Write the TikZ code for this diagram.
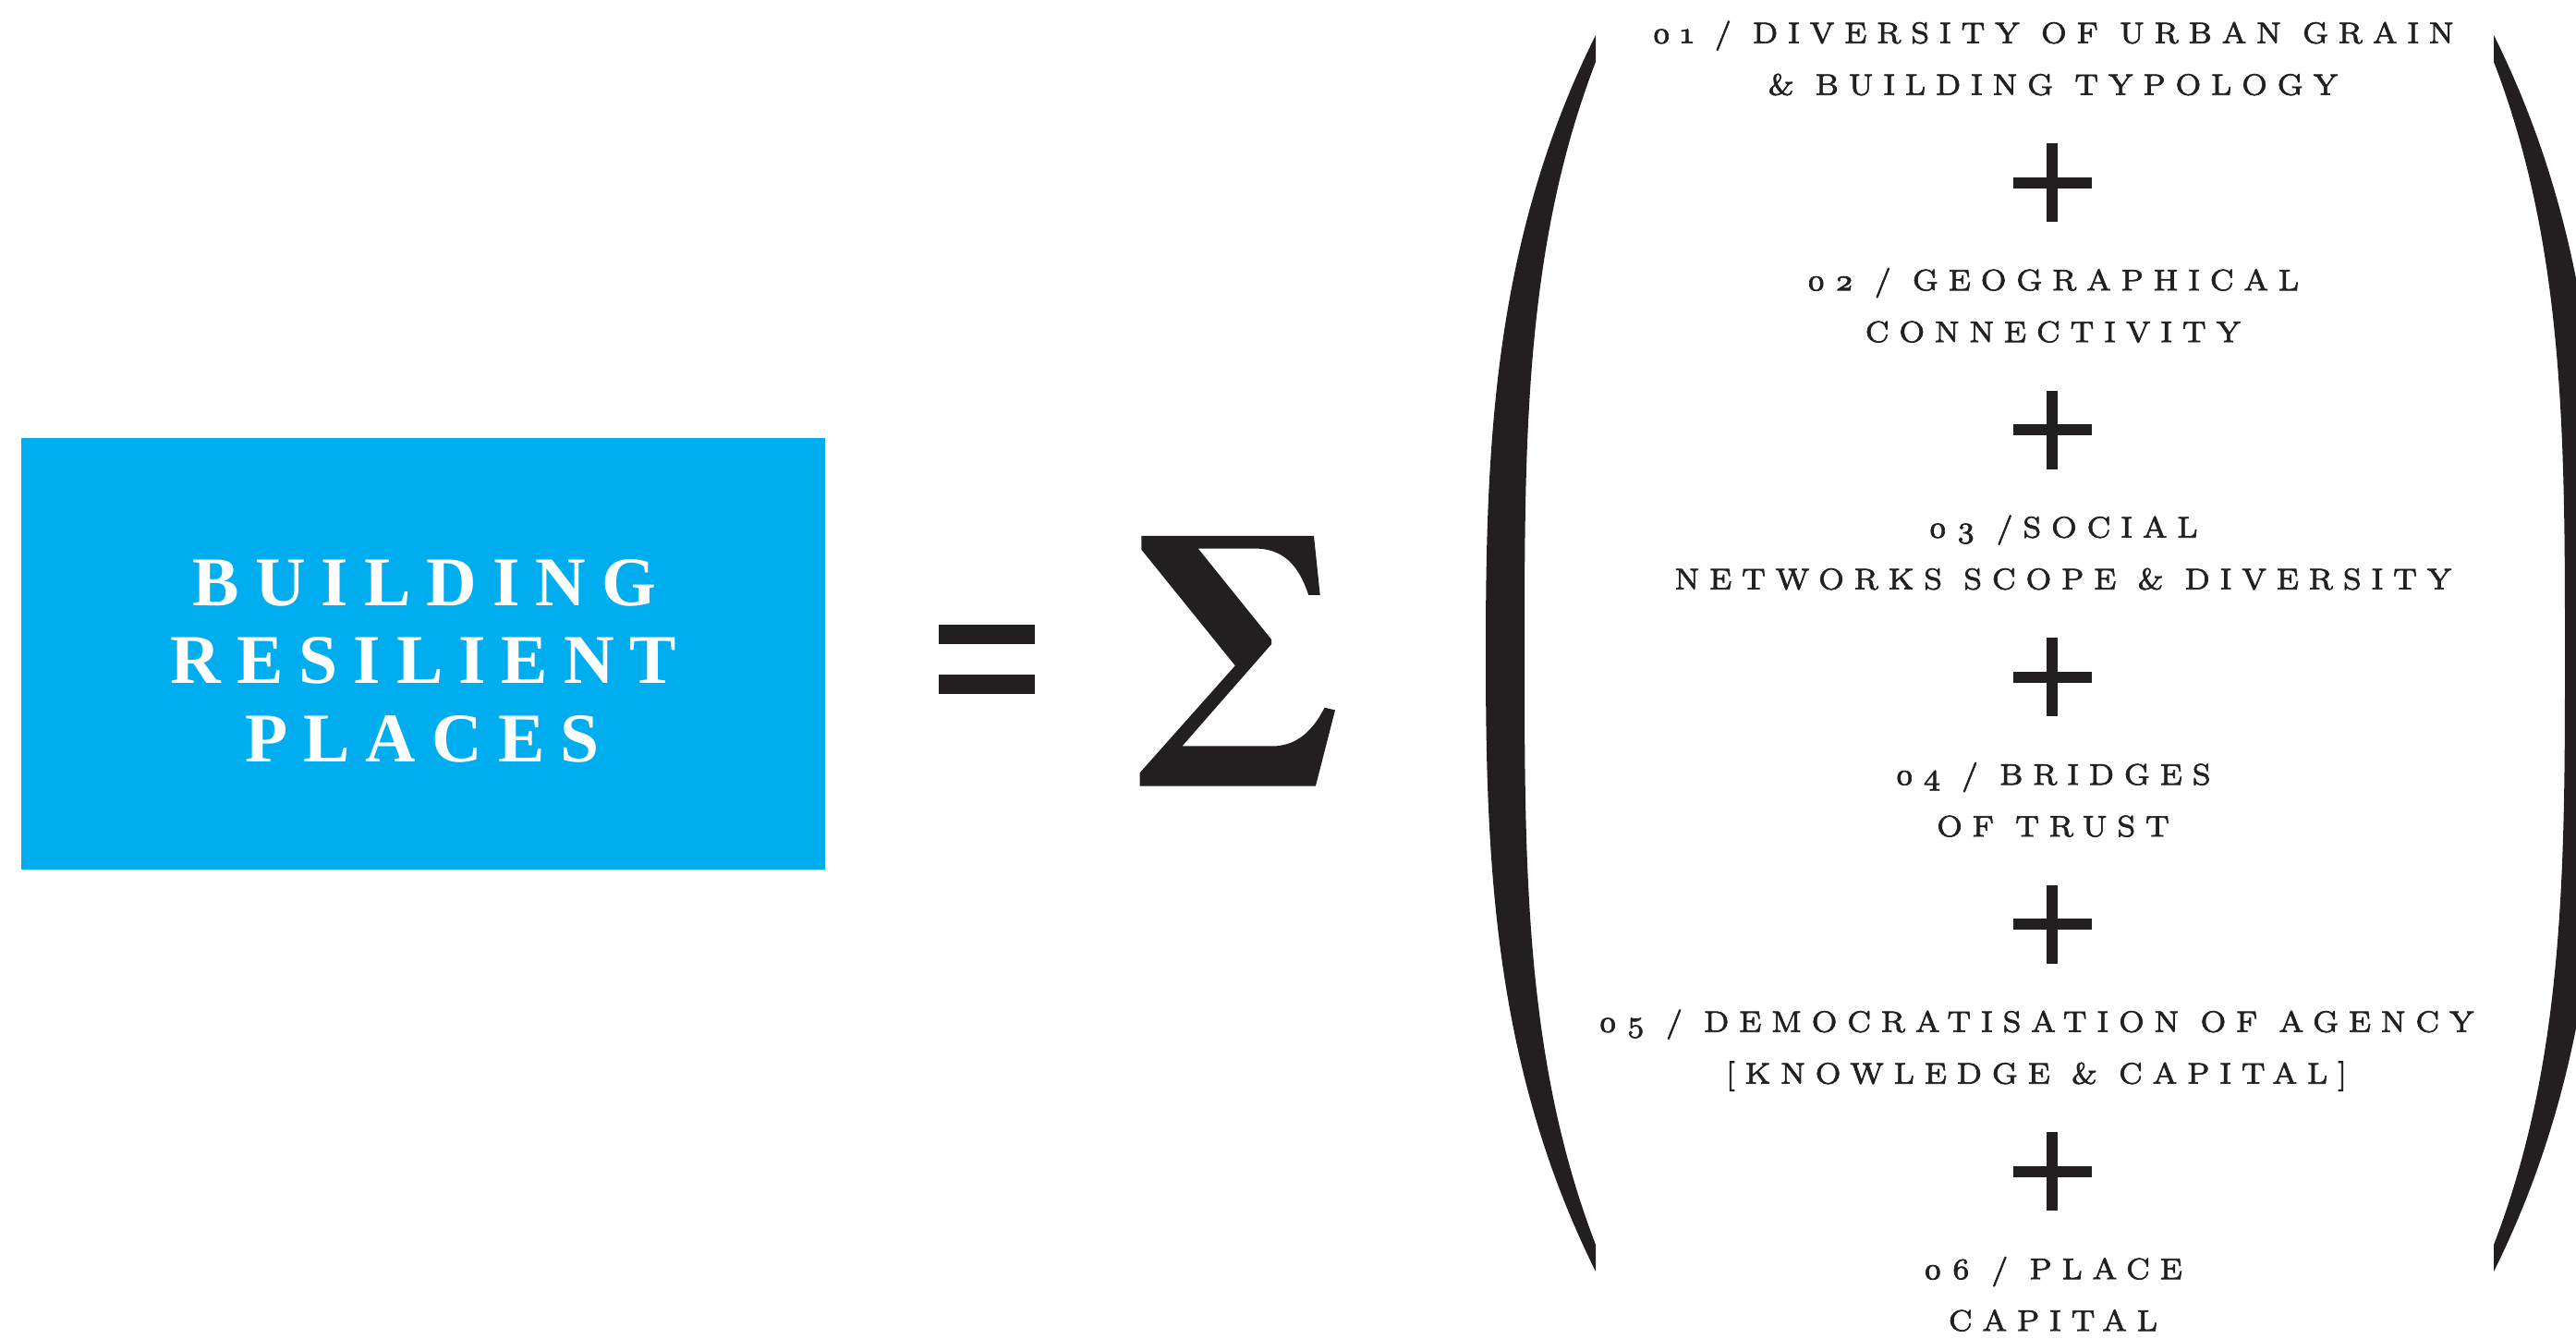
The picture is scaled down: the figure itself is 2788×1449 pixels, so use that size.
\documentclass[tikz,border=0pt]{standalone}
\usepackage{fontspec}
\setmainfont{Latin Modern Roman}
\newfontfamily\itemfont{lmroman7-regular.otf}[Numbers=OldStyle,LetterSpace=32,FakeBold=2]
\newfontfamily\boxfont{Liberation Serif}[LetterSpace=22.5]
\definecolor{ink}{HTML}{231F20}
\definecolor{cyanbox}{HTML}{00AEEF}
\tikzset{
  itemline/.style={anchor=base, inner sep=0pt, text=ink, font=\itemfont\fontsize{9.17pt}{11pt}\selectfont},
  boxline/.style={anchor=base, inner sep=0pt, text=white, font=\boxfont\bfseries\fontsize{21.5pt}{24pt}\selectfont},
  boxstyle/.style={fill=cyanbox, draw=none, inner sep=0pt, minimum width=87mm, minimum height=46.7mm},
}
\begin{document}
\begin{tikzpicture}[x=0.1mm,y=-0.1mm]
\useasboundingbox (0,0) rectangle (2788,1449);
% parentheses
\begin{scope}
\clip (0,0) rectangle (2788,1449);
\fill[ink] plot[domain=-669:669, samples=121, variable=\t]
  ({1608+119*(0.2*(\t/669)^2+0.8*(abs(\t)/669)^3)}, {707+\t})
  -- plot[domain=640:-640, samples=121, variable=\t]
  ({1650+77*(0.8*(abs(\t)/640)^3+0.2*(\t/640)^4)}, {707+\t}) -- cycle;
\fill[ink] plot[domain=-669:669, samples=121, variable=\t]
  ({2818-119*(0.2*(\t/669)^2+0.8*(abs(\t)/669)^3)}, {707+\t})
  -- plot[domain=640:-640, samples=121, variable=\t]
  ({2776-77*(0.8*(abs(\t)/640)^3+0.2*(\t/640)^4)}, {707+\t}) -- cycle;
\end{scope}
% blue box
\node[boxstyle] (box) at (458,707.5) {};
\node[boxline] (b1) at (459.5,656) {BUILDING};
\node[boxline] (b2) at (458.5,740) {RESILIENT};
\node[boxline] (b3) at (457,825) {PLACES};
% equals
\fill[ink] (1016,676) rectangle (1120,697);
\fill[ink] (1016,730) rectangle (1120,751);
% sigma
\fill[ink] (1235.4,580) -- (1422,580) -- (1428.7,644) -- (1416.3,644)
  .. controls (1408,620) and (1395,594) .. (1358.9,593.6)
  -- (1296.7,593.6) -- (1376.1,692.1) -- (1376.1,697.1) -- (1279.4,807.5)
  -- (1378,807.5) .. controls (1398,807) and (1418,797) .. (1433.5,765.8)
  -- (1445,768.4) -- (1423.9,850.7) -- (1233.5,850.7) -- (1233.5,836.4)
  -- (1336.8,720.3) -- (1235.4,594.9) -- cycle;
% plus signs
\foreach \c in {198,465.5,733,1000.5,1268} {
  \fill[ink] (2178.5,\c-6) rectangle (2263.5,\c+6);
  \fill[ink] (2215,\c-42.5) rectangle (2227,\c+42.5);
}
% items
\node[itemline] (i1a) at (2222,46.7) {01 / DIVERSITY OF URBAN GRAIN};
\node[itemline] (i1b) at (2222,102.7) {\& BUILDING TYPOLOGY};
\node[itemline] (i2a) at (2222,314.2) {02 / GEOGRAPHICAL};
\node[itemline] (i2b) at (2222,370.2) {CONNECTIVITY};
\node[itemline] (i3a) at (2233,581.7) {03 /SOCIAL};
\node[itemline] (i3b) at (2233,637.7) {NETWORKS SCOPE \& DIVERSITY};
\node[itemline] (i4a) at (2222,849.2) {04 / BRIDGES};
\node[itemline] (i4b) at (2222,905.2) {OF TRUST};
\node[itemline] (i5a) at (2204,1116.7) {05 / DEMOCRATISATION OF AGENCY};
\node[itemline] (i5b) at (2204,1172.7) {[KNOWLEDGE \& CAPITAL]};
\node[itemline] (i6a) at (2222,1384.2) {06 / PLACE};
\node[itemline] (i6b) at (2222,1440.2) {CAPITAL};
\end{tikzpicture}
\end{document}
